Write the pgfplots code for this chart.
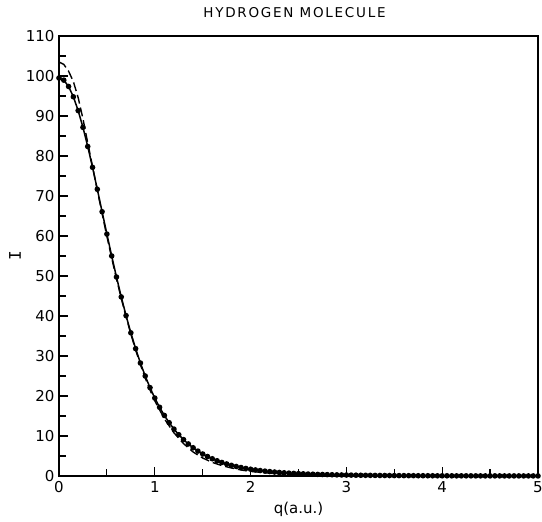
\documentclass[border=0pt]{standalone}
\usepackage{pgfplots}
\pgfplotsset{compat=1.18}
\usepackage{pgfplotstable}
\usepackage{fontspec}
\setmainfont{DejaVu Sans}
\newfontfamily\titlefont[LetterSpace=13]{DejaVu Sans}
\newfontfamily\monofont{DejaVu Sans Mono}

\pgfplotstableread{
q I
0.00 99.50
0.05 98.96
0.10 97.38
0.15 94.80
0.20 91.35
0.25 87.16
0.30 82.38
0.35 77.16
0.40 71.68
0.45 66.07
0.50 60.48
0.55 55.01
0.60 49.75
0.65 44.77
0.70 40.10
0.75 35.79
0.80 31.84
0.85 28.24
0.90 25.00
0.95 22.09
1.00 19.49
1.05 17.18
1.10 15.13
1.15 13.32
1.20 11.73
1.25 10.32
1.30 9.09
1.35 8.01
1.40 7.06
1.45 6.23
1.50 5.50
1.55 4.87
1.60 4.31
1.65 3.81
1.70 3.38
1.75 3.01
1.80 2.67
1.85 2.38
1.90 2.12
1.95 1.89
2.00 1.69
2.05 1.52
2.10 1.36
2.15 1.22
2.20 1.10
2.25 0.99
2.30 0.89
2.35 0.80
2.40 0.72
2.45 0.65
2.50 0.59
2.55 0.54
2.60 0.49
2.65 0.44
2.70 0.40
2.75 0.37
2.80 0.34
2.85 0.31
2.90 0.28
2.95 0.26
3.00 0.24
3.05 0.22
3.10 0.20
3.15 0.18
3.20 0.17
3.25 0.16
3.30 0.14
3.35 0.13
3.40 0.12
3.45 0.11
3.50 0.10
3.55 0.10
3.60 0.09
3.65 0.08
3.70 0.08
3.75 0.07
3.80 0.07
3.85 0.06
3.90 0.06
3.95 0.05
4.00 0.05
4.05 0.05
4.10 0.04
4.15 0.04
4.20 0.04
4.25 0.04
4.30 0.04
4.35 0.03
4.40 0.03
4.45 0.03
4.50 0.03
4.55 0.03
4.60 0.03
4.65 0.02
4.70 0.02
4.75 0.02
4.80 0.02
4.85 0.02
4.90 0.02
4.95 0.02
5.00 0.02
}\solid

\pgfplotstableread{
q I
0.00 103.5
0.05 102.9
0.10 101.2
0.15 98.6
0.20 94.6
0.25 89.3
0.30 83.3
0.35 77.4
0.40 71.4
0.45 65.6
0.50 59.9
0.55 54.5
0.60 49.3
0.65 44.4
0.70 39.8
0.75 35.5
0.80 31.5
0.85 27.8
0.90 24.5
0.95 21.5
1.00 18.8
1.10 14.3
1.20 10.8
1.30 8.1
1.40 6.0
1.50 4.5
1.60 3.4
1.70 2.6
1.80 2.0
1.90 1.5
2.00 1.15
2.20 0.70
2.40 0.42
2.60 0.26
2.80 0.16
3.00 0.10
3.50 0.03
4.00 0.01
5.00 0.00
}\dashed

\begin{document}
\begin{tikzpicture}
\useasboundingbox (-59pt,-46pt) rectangle (483pt,476pt);
\begin{axis}[
  at={(0pt,0pt)}, anchor=south west,
  scale only axis,
  width=479pt, height=440pt,
  xmin=0, xmax=5, ymin=0, ymax=110,
  xtick={0,1,2,3,4,5},
  ytick={0,10,...,110},
  minor x tick num=1,
  minor y tick num=1,
  tick pos=left,
  tick align=inside,
  major tick length=9pt,
  minor tick length=7pt,
  every tick/.style={black, line width=1.2pt},
  axis line style={line width=1.6pt},
  tick label style={font=\fontsize{15}{17}\selectfont},
  /pgf/number format/assume math mode=true,
  xticklabel style={yshift=-2pt},
  yticklabel style={xshift=-1pt},
  title={\titlefont\fontsize{13.5}{16}\selectfont HYDROGEN MOLECULE},
  title style={at={(0.5,1)}, anchor=base, yshift=12pt, xshift=-4pt},
  xlabel={\fontsize{15}{17}\selectfont q(a.u.)},
  xlabel style={at={(0.5,0)}, anchor=base, yshift=-38pt},
  ylabel={\monofont\fontsize{16}{18}\selectfont I},
  ylabel style={at={(axis description cs:-0.092,0.5)}, anchor=center},
  clip=false,
]
\addplot[black, line width=1.4pt, dash pattern=on 9pt off 4pt] table[x=q, y=I] {\dashed};
\addplot[black, line width=1.5pt, mark=*, mark size=2pt] table[x=q, y=I] {\solid};
\end{axis}
\end{tikzpicture}
\end{document}
